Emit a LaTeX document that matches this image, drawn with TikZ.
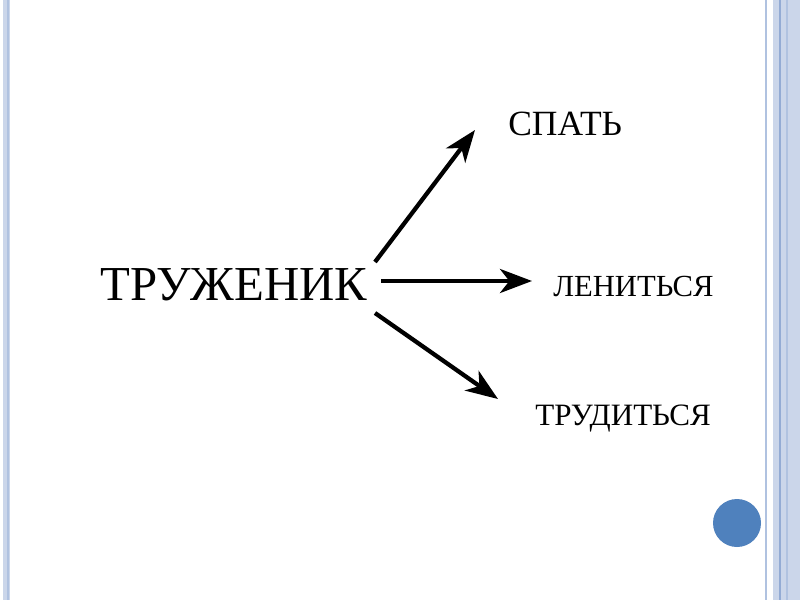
\documentclass[tikz,border=0pt]{standalone}
\usepackage{fontspec}
\setmainfont{Liberation Serif}
\usetikzlibrary{arrows.meta}
\definecolor{bstripe}{HTML}{CBD6EA}
\definecolor{bline}{HTML}{B0C2E0}
\definecolor{bdark}{HTML}{93ABD4}
\definecolor{dotblue}{HTML}{4F81BD}
\tikzset{
  px/.style={x=0.75pt,y=-0.75pt},
  word/.style={anchor=base west,inner sep=0pt},
  arr/.style={line width=3.2pt,-{Stealth[length=24pt,width=18pt,inset=7pt]}}
}
\begin{document}
\begin{tikzpicture}[px]
\useasboundingbox (0,0) rectangle (800,600);
\fill[white] (0,0) rectangle (800,600);
% left border
\fill[bstripe] (3,0) rectangle (10,600);
\fill[bline] (6.5,0) rectangle (8.5,600);
% right border
\fill[bline] (764.5,0) rectangle (767,600);
\fill[bstripe] (772.5,0) rectangle (800,600);
\fill[bdark] (778.8,0) rectangle (780.8,600);
\fill[bline] (786,0) rectangle (787.5,600);
% dot
\fill[dotblue] (737,523) circle (24);
% texts
\node[word,font=\fontsize{36.6pt}{42pt}\selectfont] (tr) at (100,300) {ТРУЖЕНИК};
\node[word,font=\fontsize{26.6pt}{30pt}\selectfont] (sp) at (508,135) {СПАТЬ};
\node[word,font=\fontsize{23pt}{27pt}\selectfont] (le) at (553,296) {ЛЕНИТЬСЯ};
\node[word,font=\fontsize{23.3pt}{27pt}\selectfont] (td) at (535,425) {ТРУДИТЬСЯ};
% arrow ends
\coordinate (s1) at (375,262);
\coordinate (e1) at (475,130);
\coordinate (s2) at (381,281);
\coordinate (e2) at (532,281);
\coordinate (s3) at (375,313);
\coordinate (e3) at (498,399);
\draw[arr] (s1) -- (e1);
\draw[arr] (s2) -- (e2);
\draw[arr] (s3) -- (e3);
\end{tikzpicture}
\end{document}
